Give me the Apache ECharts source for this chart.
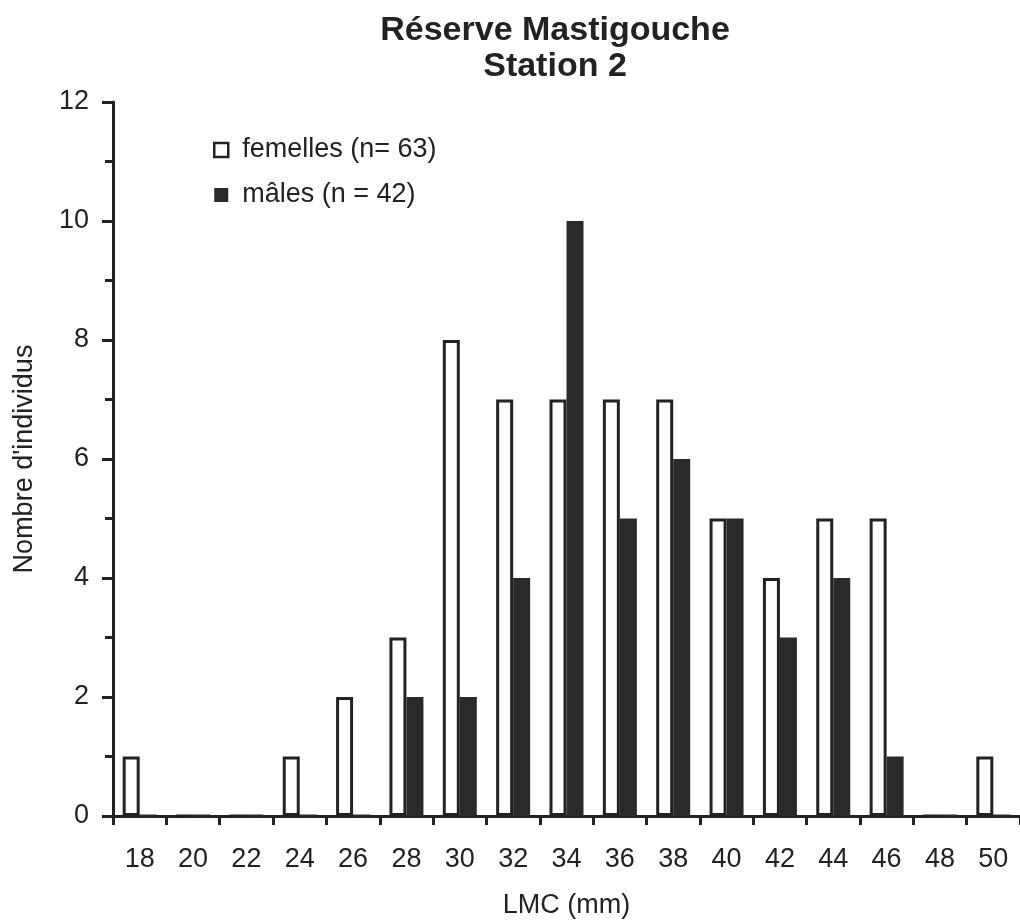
<!DOCTYPE html>
<html>
<head>
<meta charset="utf-8">
<title>Réserve Mastigouche – Station 2</title>
<script src="https://cdn.jsdelivr.net/npm/echarts@6/dist/echarts.min.js"></script>
<style>
  html, body { margin: 0; padding: 0; background: #ffffff; }
  #chart { width: 1020px; height: 924px; }
</style>
</head>
<body>
<div id="chart"></div>
<script>
// Length classes (LMC, mm)
const categories = ['18', '20', '22', '24', '26', '28', '30', '32', '34', '36', '38', '40', '42', '44', '46', '48', '50'];
// Number of individuals per class
const femelles = [1, 0, 0, 1, 2, 3, 8, 7, 7, 7, 7, 5, 4, 5, 5, 0, 1];
const males    = [0, 0, 0, 0, 0, 2, 2, 4, 10, 5, 6, 5, 3, 4, 1, 0, 0];
const seriesNames = ['femelles (n= 63)', 'mâles (n = 42)'];
const yTicks = [0, 2, 4, 6, 8, 10, 12];

const ink = '#222222';
const fontFamily = 'Liberation Sans, Arial, Helvetica, sans-serif';

const chart = echarts.init(document.getElementById('chart'), null, { renderer: 'canvas' });

chart.setOption({
  backgroundColor: '#ffffff',
  animation: false,
  title: {
    text: 'Réserve Mastigouche\nStation 2',
    left: 550,
    top: 8,
    textAlign: 'center',
    textStyle: {
      fontFamily: fontFamily,
      fontSize: 34,
      fontWeight: 'bold',
      color: ink,
      lineHeight: 36
    }
  },
  legend: {
    orient: 'vertical',
    left: 208,
    top: 130,
    icon: 'rect',
    itemWidth: 14,
    itemHeight: 14,
    itemGap: 15,
    textStyle: {
      fontFamily: fontFamily,
      fontSize: 27,
      color: ink,
      lineHeight: 30,
      padding: [0, 0, 0, 9]
    },
    data: [
      { name: seriesNames[0], itemStyle: { color: '#ffffff', borderColor: ink, borderWidth: 2.5 } },
      { name: seriesNames[1], itemStyle: { color: '#2a2a2a', borderColor: ink, borderWidth: 0 } }
    ]
  },
  grid: {
    left: 113,
    right: -5,
    top: 102,
    bottom: 102,
    containLabel: false
  },
  xAxis: {
    type: 'category',
    data: categories,
    boundaryGap: true,
    name: 'LMC (mm)',
    nameLocation: 'middle',
    nameGap: 76,
    nameTextStyle: { fontFamily: fontFamily, fontSize: 27, color: ink },
    axisLine: { show: true, onZero: false, lineStyle: { color: ink, width: 3 } },
    axisTick: { show: true, alignWithLabel: false, inside: false, length: 9, lineStyle: { color: ink, width: 3 } },
    axisLabel: { fontFamily: fontFamily, fontSize: 27, color: ink, margin: 30, interval: 0 },
    splitLine: { show: false }
  },
  yAxis: {
    type: 'value',
    min: yTicks[0],
    max: yTicks[yTicks.length - 1],
    interval: 2,
    name: "Nombre d'individus",
    nameLocation: 'middle',
    nameGap: 75,
    nameRotate: 90,
    nameTextStyle: { fontFamily: fontFamily, fontSize: 27, color: ink },
    axisLine: { show: true, lineStyle: { color: ink, width: 3 } },
    axisTick: { show: true, inside: false, length: 11, lineStyle: { color: ink, width: 3 } },
    minorTick: { show: true, splitNumber: 2, length: 8, lineStyle: { color: ink, width: 3 } },
    axisLabel: { fontFamily: fontFamily, fontSize: 27, color: ink, margin: 24 },
    splitLine: { show: false },
    minorSplitLine: { show: false }
  },
  series: [
    {
      name: seriesNames[0],
      type: 'bar',
      data: femelles,
      barWidth: 17,
      barGap: '0%',
      itemStyle: { color: '#ffffff', borderColor: ink, borderWidth: 3 }
    },
    {
      name: seriesNames[1],
      type: 'bar',
      data: males,
      barWidth: 17,
      barGap: '0%',
      itemStyle: { color: '#2a2a2a', borderColor: '#2a2a2a', borderWidth: 3 }
    }
  ]
});
</script>
</body>
</html>
